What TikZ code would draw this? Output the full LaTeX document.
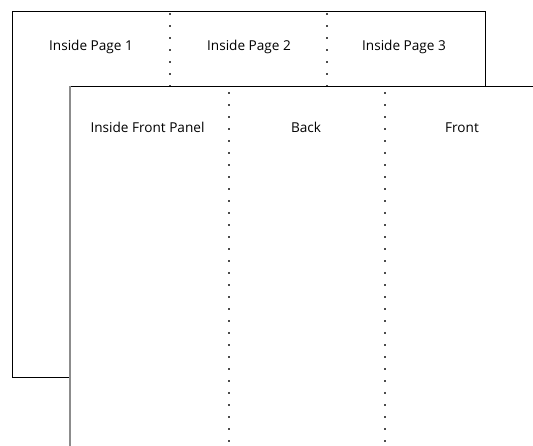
\documentclass[tikz,border=0pt]{standalone}
\usepackage{fontspec}
\setmainfont{Open Sans}
\begin{document}
\begin{tikzpicture}[x=1pt,y=-1pt,
  sheet/.style={draw=black,line width=0.9pt,fill=white},
  fold/.style={draw=black!70,line width=1.2pt,dash pattern=on 2pt off 10pt},
  lab/.style={font=\fontsize{13.6}{16}\selectfont,text=black,inner sep=0pt,anchor=base}]
\useasboundingbox (0,0) rectangle (533,445);
\fill[white] (0,0) rectangle (533,445);
% back sheet
\coordinate (btl) at (12,11.5);
\coordinate (bbr) at (485,377.5);
\draw[sheet] (btl) rectangle (bbr);
\coordinate (bf1t) at (170,13); \coordinate (bf1b) at (170,86);
\coordinate (bf2t) at (327,13); \coordinate (bf2b) at (327,86);
\draw[fold] (bf1t) -- (bf1b);
\draw[fold] (bf2t) -- (bf2b);
\node[lab] (ip1) at (91,50.5) {Inside Page 1};
\node[lab] (ip2) at (249,50.5) {Inside Page 2};
\node[lab] (ip3) at (404,50.5) {Inside Page 3};
% front sheet
\coordinate (ftl) at (70,86);
\coordinate (ftr) at (540,86);
\coordinate (fbl) at (70,450);
\fill[white] (ftl) rectangle (540,450);
\draw[black,line width=0.9pt] (ftl) -- (ftr);
\draw[black!45,line width=1.8pt] (70,85.6) -- (fbl);
\coordinate (ff1t) at (229,92); \coordinate (ff1b) at (229,445);
\coordinate (ff2t) at (385,92); \coordinate (ff2b) at (385,445);
\draw[fold] (ff1t) -- (ff1b);
\draw[fold] (ff2t) -- (ff2b);
\node[lab] (ifp) at (147.5,132.5) {Inside Front Panel};
\node[lab] (bk) at (306,132.5) {Back};
\node[lab] (fr) at (462,132.5) {Front};
\end{tikzpicture}
\end{document}
